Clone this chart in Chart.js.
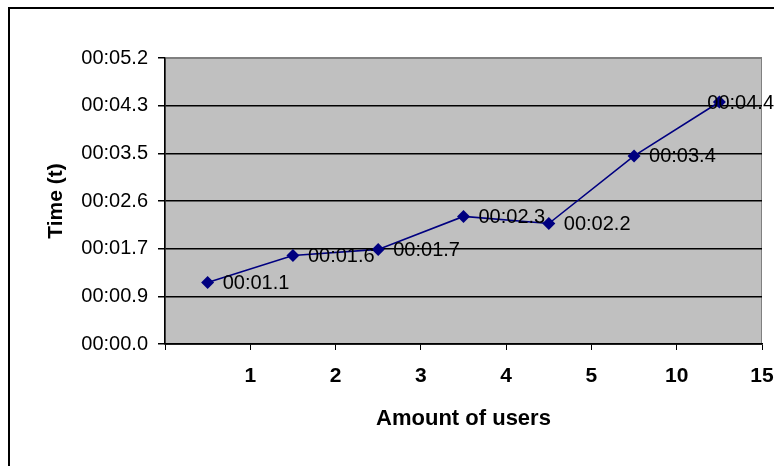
<!DOCTYPE html>
<html>
<head>
<meta charset="utf-8">
<title>Time per amount of users</title>
<script src="https://cdn.jsdelivr.net/npm/chart.js@4/dist/chart.umd.min.js"></script>
<style>
    body { margin: 0; background: #ffffff; }
    #usersChart { display: block; }
</style>
</head>
<body>
<canvas id="usersChart" width="774" height="466"></canvas>
<script>
/* Chart data */
var userCounts = ['1', '2', '3', '4', '5', '10', '15'];
var timeSeconds = [1.12, 1.61, 1.72, 2.32, 2.19, 3.42, 4.40];
var yTickValues = [0, 0.867, 1.733, 2.6, 3.467, 4.333, 5.2];

/* Format seconds like 00:01.1 */
function formatTime(sec) {
    var min = Math.floor(sec / 60);
    var rest = (sec - min * 60).toFixed(1);
    if (rest.length < 4)
        rest = '0' + rest;
    return (min < 10 ? '0' + min : '' + min) + ':' + rest;
}

/* Gray plot background, frame around the picture */
var plotBackground = {
    id: 'plotBackground',
    beforeDraw: function(chart) {
        var ctx = chart.ctx;
        var area = chart.chartArea;
        ctx.save();
        ctx.fillStyle = '#ffffff';
        ctx.fillRect(0, 0, chart.width, chart.height);
        ctx.fillStyle = '#c0c0c0';
        ctx.fillRect(area.left, area.top, area.right - area.left, area.bottom - area.top);
        ctx.strokeStyle = '#808080';
        ctx.lineWidth = 1;
        ctx.strokeRect(area.left + 0.5, area.top + 0.5, area.right - area.left - 1, area.bottom - area.top);
        // outer frame, runs off the right and bottom edges
        ctx.strokeStyle = '#000000';
        ctx.lineWidth = 2;
        ctx.beginPath();
        ctx.moveTo(9, chart.height);
        ctx.lineTo(9, 8);
        ctx.lineTo(chart.width, 8);
        ctx.stroke();
        ctx.restore();
    }
};

/* Value labels to the right of each point */
var pointLabels = {
    id: 'pointLabels',
    afterDatasetsDraw: function(chart) {
        var ctx = chart.ctx;
        var meta = chart.getDatasetMeta(0);
        ctx.save();
        ctx.font = '20px "Liberation Sans", Arial, sans-serif';
        ctx.fillStyle = '#000000';
        ctx.textBaseline = 'middle';
        ctx.textAlign = 'left';
        for (var i = 0; i < meta.data.length; i++) {
            var pt = meta.data[i];
            var text = formatTime(timeSeconds[i]);
            var x = pt.x + 15;
            var w = ctx.measureText(text).width;
            if (x + w > chart.width)
                x = chart.width - w; /* pushed back inside, like the original */
            ctx.fillText(text, x, pt.y + 1);
        }
        ctx.restore();
    }
};

var ctx = document.getElementById('usersChart').getContext('2d');
var chart = new Chart(ctx, {
    type: 'line',
    data: {
        labels: userCounts,
        datasets: [{
            label: 'Time',
            data: timeSeconds,
            borderColor: '#000080',
            backgroundColor: '#000080',
            borderWidth: 1.6,
            pointStyle: 'rectRot',
            pointRadius: 6.5,
            pointBorderWidth: 0,
            tension: 0,
            fill: false
        }]
    },
    options: {
        responsive: false,
        animation: false,
        layout: { padding: { top: 58, right: 12, left: 0, bottom: 0 } },
        plugins: {
            legend: { display: false },
            tooltip: { enabled: false }
        },
        scales: {
            x: {
                type: 'category',
                offset: true,
                afterFit: function(scale) { scale.height = 122; },
                grid: {
                    offset: true,
                    drawOnChartArea: false,
                    drawTicks: true,
                    tickLength: 6,
                    color: '#000000'
                },
                border: { color: '#000000', width: 1.5 },
                ticks: {
                    color: '#000000',
                    padding: 14,
                    labelOffset: 42.6,
                    maxRotation: 0,
                    autoSkip: false,
                    font: { family: '"Liberation Sans", Arial, sans-serif', size: 21, weight: 'bold' }
                },
                title: {
                    display: true,
                    text: 'Amount of users',
                    color: '#000000',
                    padding: { top: 0, bottom: 34 },
                    font: { family: '"Liberation Sans", Arial, sans-serif', size: 22, weight: 'bold' }
                }
            },
            y: {
                min: 0,
                max: 5.2,
                afterFit: function(scale) { scale.width = 165; },
                afterBuildTicks: function(scale) {
                    scale.ticks = yTickValues.map(function(v) { return { value: v }; });
                },
                grid: {
                    color: function(c) {
                        return c.index === yTickValues.length - 1 ? '#808080' : '#000000';
                    },
                    lineWidth: 1.5,
                    tickLength: 7,
                    tickColor: '#000000'
                },
                border: { color: '#000000', width: 1.5 },
                ticks: {
                    color: '#000000',
                    padding: 10,
                    font: { family: '"Liberation Sans", Arial, sans-serif', size: 20 },
                    callback: function(value) { return formatTime(value); }
                },
                title: {
                    display: true,
                    text: 'Time (t)',
                    color: '#000000',
                    padding: { top: 44, bottom: 0 },
                    font: { family: '"Liberation Sans", Arial, sans-serif', size: 21, weight: 'bold' }
                }
            }
        }
    },
    plugins: [plotBackground, pointLabels]
});
</script>
</body>
</html>
